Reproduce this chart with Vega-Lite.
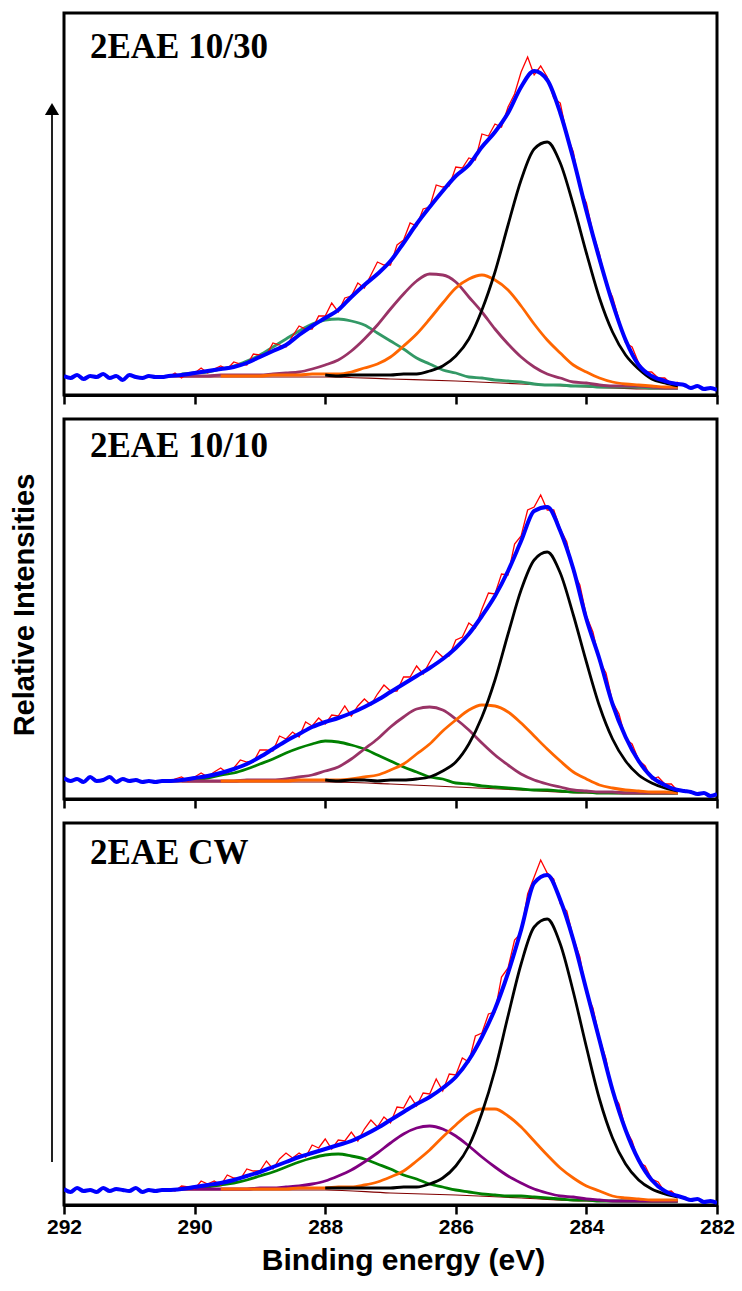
{
"$schema":"https://vega.github.io/schema/vega-lite/v6.json",
"padding":{"left":0,"top":11,"right":8,"bottom":4},
"background":"white",
"config":{"view":{"stroke":"black","strokeWidth":3},"title":{"anchor":"start","frame":"group","orient":"top","offset":-52,"dx":26,"font":"Liberation Serif","fontSize":35,"fontWeight":"bold","color":"black","baseline":"alphabetic"}},
"datasets":{
"p1":[
{"e":292,"f":19},{"e":291.9,"f":17},{"e":291.8,"f":20},{"e":291.7,"f":16},{"e":291.6,"f":19},{"e":291.5,"f":18},{"e":291.4,"f":21},{"e":291.3,"f":17},{"e":291.2,"f":19},{"e":291.1,"f":15},{"e":291,"f":20},{"e":290.9,"f":18},{"e":290.8,"f":17},{"e":290.7,"f":19},{"e":290.6,"f":18},{"e":290.5,"f":18},
{"e":290.4,"f":19,"r":18,"z":18},{"e":290.3,"r":22},
{"e":290.2,"f":20,"r":17,"u":19,"g":21},{"e":290.1,"r":22},
{"e":290,"f":22,"r":22,"u":19,"g":22},{"e":289.9,"r":27},
{"e":289.8,"f":24,"r":22,"u":19,"g":23},{"e":289.7,"r":26},
{"e":289.6,"f":26,"r":29,"o":19,"u":20,"g":26},{"e":289.5,"r":26},
{"e":289.4,"f":28,"r":33,"o":19,"u":20,"g":29},{"e":289.3,"r":31},
{"e":289.2,"f":32,"r":30,"o":19,"u":20,"g":34},{"e":289.1,"r":41},
{"e":289,"f":38,"r":40,"o":19,"u":20,"g":40,"z":18},{"e":288.9,"r":40},
{"e":288.8,"f":44,"r":52,"o":20,"u":21,"g":48},{"e":288.7,"r":50},
{"e":288.6,"f":50,"r":48,"o":20,"u":22,"g":56},{"e":288.5,"r":59},
{"e":288.4,"f":60,"r":69,"o":20,"u":23,"g":64},{"e":288.3,"r":66},
{"e":288.2,"f":69,"r":66,"o":21,"u":26,"g":71},{"e":288.1,"r":79},
{"e":288,"f":77,"r":79,"k":20,"o":21,"u":30,"g":75,"z":18},{"e":287.9,"r":92},
{"e":287.8,"f":85,"r":83,"k":19,"o":21,"u":35,"g":76},{"e":287.7,"r":97},
{"e":287.6,"f":98,"r":99,"k":20,"o":23,"u":44,"g":74},{"e":287.5,"r":112},
{"e":287.4,"f":110,"r":107,"k":20,"o":27,"u":56,"g":70},{"e":287.3,"r":120},
{"e":287.2,"f":121,"r":133,"k":20,"o":31,"u":70,"g":62},{"e":287.1,"r":130},
{"e":287,"f":134,"r":130,"k":20,"o":38,"u":86,"g":54,"z":16},{"e":286.9,"r":150},
{"e":286.8,"f":152,"r":155,"k":21,"o":49,"u":101,"g":46},{"e":286.7,"r":172},
{"e":286.6,"f":171,"r":169,"k":21,"o":61,"u":114,"g":37},{"e":286.5,"r":186},
{"e":286.4,"f":188,"r":188,"k":24,"o":76,"u":121,"g":31},{"e":286.3,"r":210},
{"e":286.2,"f":204,"r":208,"k":29,"o":92,"u":120,"g":25},{"e":286.1,"r":209},
{"e":286,"f":219,"r":228,"k":39,"o":107,"u":113,"g":22,"z":14},{"e":285.9,"r":227},
{"e":285.8,"f":230,"r":237,"k":56,"o":116,"u":98,"g":18},{"e":285.7,"r":235},
{"e":285.6,"f":248,"r":261,"k":85,"o":120,"u":83,"g":17},{"e":285.5,"r":259},
{"e":285.4,"f":263,"r":271,"k":123,"o":115,"u":66,"g":15},{"e":285.3,"r":268},
{"e":285.2,"f":282,"r":288,"k":170,"o":105,"u":51,"g":14},{"e":285.1,"r":301},
{"e":285,"f":308,"r":323,"k":215,"o":89,"u":38,"g":13,"z":11},{"e":284.9,"r":338},
{"e":284.8,"f":324,"r":320,"k":246,"o":71,"u":28,"g":11},{"e":284.7,"r":329},
{"e":284.6,"f":315,"r":318,"k":253,"o":55,"u":21,"g":10},{"e":284.5,"r":297},
{"e":284.4,"f":282,"r":292,"k":232,"o":42,"u":17,"g":10},{"e":284.3,"r":260},
{"e":284.2,"f":236,"r":243,"k":190,"o":30,"u":13,"g":9},{"e":284.1,"r":207},
{"e":284,"f":184,"r":192,"k":142,"o":23,"u":12,"g":9,"z":8},{"e":283.9,"r":162},
{"e":283.8,"f":136,"r":141,"k":97,"o":17,"u":10,"g":8},{"e":283.7,"r":112},
{"e":283.6,"f":92,"r":98,"k":63,"o":13,"u":9,"g":8},{"e":283.5,"r":75},
{"e":283.4,"f":55,"r":52,"k":40,"o":11,"u":9,"g":8},{"e":283.3,"r":48},
{"e":283.2,"f":30,"r":32,"k":26,"o":10,"u":9,"g":8},{"e":283.1,"r":23},
{"e":283,"f":19,"r":23,"k":16,"o":9,"u":8,"g":7,"z":6},{"e":282.9,"r":17},
{"e":282.8,"f":14,"r":17,"k":12,"o":8,"u":7,"g":7},{"e":282.7,"f":12,"r":11},
{"e":282.6,"f":11,"r":13,"k":9,"o":8,"u":7,"g":7,"z":6},
{"e":282.5,"f":10},{"e":282.4,"f":7},{"e":282.3,"f":9},{"e":282.2,"f":6},{"e":282.1,"f":7},{"e":282,"f":5}
],
"p2":[
{"e":292,"f":21},{"e":291.9,"f":18},{"e":291.8,"f":20},{"e":291.7,"f":17},{"e":291.6,"f":22},{"e":291.5,"f":18},{"e":291.4,"f":19},{"e":291.3,"f":22},{"e":291.2,"f":17},{"e":291.1,"f":20},{"e":291,"f":18},{"e":290.9,"f":19},{"e":290.8,"f":17},{"e":290.7,"f":18},{"e":290.6,"f":17},{"e":290.5,"f":18},
{"e":290.4,"f":18,"r":17,"z":17},{"e":290.3,"r":20},
{"e":290.2,"f":19,"r":22,"u":18,"g":19},{"e":290.1,"r":18},
{"e":290,"f":21,"r":22,"u":18,"g":20},{"e":289.9,"r":26},
{"e":289.8,"f":23,"r":22,"u":18,"g":21},{"e":289.7,"r":27},
{"e":289.6,"f":26,"r":31,"o":18,"u":18,"g":24},{"e":289.5,"r":26},
{"e":289.4,"f":30,"r":31,"o":18,"u":18,"g":26},{"e":289.3,"r":39},
{"e":289.2,"f":35,"r":37,"o":18,"u":19,"g":30},{"e":289.1,"r":37},
{"e":289,"f":42,"r":49,"o":18,"u":19,"g":35,"z":17},{"e":288.9,"r":49},
{"e":288.8,"f":50,"r":48,"o":18,"u":19,"g":40},{"e":288.7,"r":63},
{"e":288.6,"f":58,"r":60,"o":18,"u":20,"g":46},{"e":288.5,"r":67},
{"e":288.4,"f":65,"r":62,"o":19,"u":22,"g":51},{"e":288.3,"r":77},
{"e":288.2,"f":72,"r":73,"o":19,"u":24,"g":55},{"e":288.1,"r":81},
{"e":288,"f":77,"r":75,"k":19,"o":19,"u":28,"g":58,"z":17},{"e":287.9,"r":84},
{"e":287.8,"f":81,"r":83,"k":18,"o":19,"u":32,"g":57},{"e":287.7,"r":93},
{"e":287.6,"f":86,"r":83,"k":19,"o":20,"u":40,"g":54},{"e":287.5,"r":93},
{"e":287.4,"f":92,"r":100,"k":19,"o":22,"u":50,"g":50},{"e":287.3,"r":94},
{"e":287.2,"f":99,"r":105,"k":18,"o":24,"u":60,"g":44},{"e":287.1,"r":114},
{"e":287,"f":107,"r":108,"k":19,"o":29,"u":72,"g":38,"z":15},{"e":286.9,"r":108},
{"e":286.8,"f":115,"r":122,"k":19,"o":35,"u":82,"g":32},{"e":286.7,"r":122},
{"e":286.6,"f":123,"r":133,"k":20,"o":45,"u":90,"g":27},{"e":286.5,"r":125},
{"e":286.4,"f":131,"r":137,"k":22,"o":55,"u":92,"g":22},{"e":286.3,"r":148},
{"e":286.2,"f":140,"r":142,"k":28,"o":68,"u":89,"g":20},{"e":286.1,"r":143},
{"e":286,"f":151,"r":159,"k":37,"o":79,"u":80,"g":16,"z":12},{"e":285.9,"r":162},
{"e":285.8,"f":165,"r":176,"k":55,"o":89,"u":69,"g":15},{"e":285.7,"r":171},
{"e":285.6,"f":183,"r":190,"k":82,"o":94,"u":56,"g":13},{"e":285.5,"r":206},
{"e":285.4,"f":203,"r":205,"k":119,"o":93,"u":44,"g":12},{"e":285.3,"r":225},
{"e":285.2,"f":228,"r":224,"k":165,"o":87,"u":34,"g":11},{"e":285.1,"r":255},
{"e":285,"f":258,"r":263,"k":209,"o":76,"u":25,"g":10,"z":9},{"e":284.9,"r":289},
{"e":284.8,"f":288,"r":292,"k":239,"o":63,"u":19,"g":9},{"e":284.7,"r":304},
{"e":284.6,"f":292,"r":289,"k":247,"o":50,"u":15,"g":9},{"e":284.5,"r":289},
{"e":284.4,"f":268,"r":270,"k":226,"o":38,"u":12,"g":8},{"e":284.3,"r":257},
{"e":284.2,"f":230,"r":227,"k":184,"o":27,"u":9,"g":7},{"e":284.1,"r":214},
{"e":284,"f":180,"r":183,"k":137,"o":20,"u":8,"g":7,"z":6},{"e":283.9,"r":167},
{"e":283.8,"f":140,"r":138,"k":93,"o":14,"u":7,"g":6},{"e":283.7,"r":126},
{"e":283.6,"f":95,"r":97,"k":60,"o":11,"u":7,"g":6},{"e":283.5,"r":85},
{"e":283.4,"f":62,"r":60,"k":38,"o":9,"u":6,"g":6},{"e":283.3,"r":55},
{"e":283.2,"f":38,"r":39,"k":24,"o":8,"u":6,"g":6},{"e":283.1,"r":33},
{"e":283,"f":22,"r":20,"k":16,"o":7,"u":6,"g":6,"z":5},{"e":282.9,"r":22},
{"e":282.8,"f":14,"r":15,"k":11,"o":7,"u":6,"g":6},{"e":282.7,"f":11,"r":15},
{"e":282.6,"f":9,"r":8,"k":8,"o":6,"u":6,"g":6,"z":5},
{"e":282.5,"f":8},{"e":282.4,"f":7},{"e":282.3,"f":5},{"e":282.2,"f":6},{"e":282.1,"f":3},{"e":282,"f":5}
],
"p3":[
{"e":292,"f":16},{"e":291.9,"f":13},{"e":291.8,"f":17},{"e":291.7,"f":14},{"e":291.6,"f":15},{"e":291.5,"f":13},{"e":291.4,"f":17},{"e":291.3,"f":14},{"e":291.2,"f":16},{"e":291.1,"f":15},{"e":291,"f":14},{"e":290.9,"f":17},{"e":290.8,"f":13},{"e":290.7,"f":15},{"e":290.6,"f":14},{"e":290.5,"f":15},
{"e":290.4,"f":15,"r":16,"z":15},{"e":290.3,"r":14},
{"e":290.2,"f":16,"r":19,"u":16,"g":17},{"e":290.1,"r":18},
{"e":290,"f":18,"r":16,"u":16,"g":17},{"e":289.9,"r":24},
{"e":289.8,"f":20,"r":21,"u":16,"g":18},{"e":289.7,"r":24},
{"e":289.6,"f":22,"r":20,"o":16,"u":16,"g":20},{"e":289.5,"r":30},
{"e":289.4,"f":25,"r":27,"o":16,"u":16,"g":22},{"e":289.3,"r":26},
{"e":289.2,"f":29,"r":36,"o":16,"u":16,"g":25},{"e":289.1,"r":34},
{"e":289,"f":33,"r":34,"o":16,"u":17,"g":29,"z":15},{"e":288.9,"r":44},
{"e":288.8,"f":38,"r":36,"o":16,"u":17,"g":33},{"e":288.7,"r":46},
{"e":288.6,"f":43,"r":52,"o":16,"u":18,"g":38},{"e":288.5,"r":47},
{"e":288.4,"f":48,"r":52,"o":17,"u":19,"g":43},{"e":288.3,"r":48},
{"e":288.2,"f":52,"r":60,"o":17,"u":21,"g":47},{"e":288.1,"r":57},
{"e":288,"f":56,"r":66,"k":17,"o":17,"u":24,"g":50,"z":15},{"e":287.9,"r":56},
{"e":287.8,"f":60,"r":65,"k":17,"o":18,"u":29,"g":51},{"e":287.7,"r":64},
{"e":287.6,"f":64,"r":73,"k":17,"o":18,"u":35,"g":49},{"e":287.5,"r":64},
{"e":287.4,"f":70,"r":76,"k":17,"o":20,"u":43,"g":46},{"e":287.3,"r":85},
{"e":287.2,"f":77,"r":78,"k":17,"o":23,"u":52,"g":41},{"e":287.1,"r":88},
{"e":287,"f":85,"r":82,"k":17,"o":28,"u":62,"g":36,"z":12},{"e":286.9,"r":98},
{"e":286.8,"f":93,"r":97,"k":18,"o":34,"u":71,"g":30},{"e":286.7,"r":109},
{"e":286.6,"f":101,"r":99,"k":18,"o":44,"u":77,"g":26},{"e":286.5,"r":112},
{"e":286.4,"f":108,"r":111,"k":21,"o":55,"u":79,"g":21},{"e":286.3,"r":126},
{"e":286.2,"f":117,"r":114,"k":27,"o":68,"u":76,"g":18},{"e":286.1,"r":131},
{"e":286,"f":128,"r":130,"k":39,"o":80,"u":69,"g":15,"z":10},{"e":285.9,"r":147},
{"e":285.8,"f":145,"r":143,"k":59,"o":91,"u":59,"g":13},{"e":285.7,"r":169},
{"e":285.6,"f":168,"r":172,"k":92,"o":96,"u":48,"g":11},{"e":285.5,"r":191},
{"e":285.4,"f":196,"r":193,"k":135,"o":96,"u":38,"g":10},{"e":285.3,"r":228},
{"e":285.2,"f":232,"r":237,"k":189,"o":89,"u":29,"g":9},{"e":285.1,"r":265},
{"e":285,"f":275,"r":272,"k":241,"o":78,"u":22,"g":9,"z":7},{"e":284.9,"r":311},
{"e":284.8,"f":322,"r":328,"k":278,"o":64,"u":16,"g":8},{"e":284.7,"r":345},
{"e":284.6,"f":330,"r":332,"k":286,"o":50,"u":12,"g":7},{"e":284.5,"r":326},
{"e":284.4,"f":305,"r":301,"k":261,"o":37,"u":9,"g":6},{"e":284.3,"r":294},
{"e":284.2,"f":265,"r":267,"k":213,"o":27,"u":8,"g":5},{"e":284.1,"r":248},
{"e":284,"f":215,"r":212,"k":158,"o":19,"u":6,"g":5,"z":4},{"e":283.9,"r":197},
{"e":283.8,"f":165,"r":167,"k":106,"o":14,"u":5,"g":4},{"e":283.7,"r":146},
{"e":283.6,"f":115,"r":112,"k":67,"o":9,"u":4,"g":4},{"e":283.5,"r":101},
{"e":283.4,"f":75,"r":76,"k":41,"o":7,"u":4,"g":4},{"e":283.3,"r":64},
{"e":283.2,"f":45,"r":43,"k":25,"o":6,"u":4,"g":4},{"e":283.1,"r":39},
{"e":283,"f":25,"r":26,"k":16,"o":5,"u":4,"g":4,"z":3},{"e":282.9,"r":23},
{"e":282.8,"f":14,"r":13,"k":11,"o":5,"u":4,"g":4},{"e":282.7,"f":11,"r":14},
{"e":282.6,"f":9,"r":8,"k":8,"o":5,"u":4,"g":4,"z":3},
{"e":282.5,"f":7},{"e":282.4,"f":5},{"e":282.3,"f":6},{"e":282.2,"f":3},{"e":282.1,"f":4},{"e":282,"f":2}
]
},
"hconcat":[
{
"width":58,"height":1192,
"view":{"stroke":null},
"layer":[
{"data":{"values":[{"t":"Relative Intensities"}]},
 "mark":{"type":"text","angle":270,"font":"Liberation Sans","fontSize":29,"fontWeight":"bold","align":"center","baseline":"middle","color":"black"},
 "encoding":{"text":{"field":"t"},
  "x":{"datum":25,"type":"quantitative","scale":{"domain":[0,58],"nice":false,"zero":false},"axis":null},
  "y":{"datum":592,"type":"quantitative","scale":{"domain":[0,1192],"reverse":true,"nice":false,"zero":false},"axis":null}}},
{"data":{"values":[{"t":"arrow"}]},
 "mark":{"type":"rule","strokeWidth":2,"color":"#222"},
 "encoding":{"x":{"datum":52,"type":"quantitative"},"y":{"datum":100,"type":"quantitative"},"y2":{"datum":1149}}},
{"data":{"values":[{"t":"arrow"}]},
 "mark":{"type":"point","shape":"triangle-up","filled":true,"color":"black","opacity":1,"size":200},
 "encoding":{"x":{"datum":52,"type":"quantitative"},"y":{"datum":96,"type":"quantitative"}}}
]
},
{
"vconcat":[
{
"title":{"text":"2EAE 10/30"},
"width":653,"height":382,
"encoding":{
 "x":{"field":"e","type":"quantitative","scale":{"domain":[282,292],"reverse":true,"nice":false,"zero":false},
  "axis":{"values":[292,290,288,286,284,282],"labels":false,"title":null,"grid":false,"ticks":true,"tickSize":9,"tickWidth":2.5,"tickColor":"black","domainColor":"black","domainWidth":3}},
 "y":{"field":"v","type":"quantitative","scale":{"domain":[0,382],"nice":false,"zero":false},"axis":null}},
"layer":[
{"data":{"name":"p1"},"transform":[{"fold":["z"],"as":["s","v"]},{"filter":"isValid(datum.v)"}],
 "mark":{"type":"line","interpolate":"monotone","color":"#800000","strokeWidth":1.2,"clip":true}},
{"data":{"name":"p1"},"transform":[{"fold":["g","u","o","k"],"as":["s","v"]},{"filter":"isValid(datum.v)"}],
 "mark":{"type":"line","interpolate":"monotone","strokeWidth":2.8,"clip":true},
 "encoding":{"color":{"field":"s","type":"nominal","scale":{"domain":["g","u","o","k"],"range":["#339966","#993366","#FF6600","#000000"]},"legend":null}}},
{"data":{"name":"p1"},"transform":[{"fold":["r"],"as":["s","v"]},{"filter":"isValid(datum.v)"}],
 "mark":{"type":"line","color":"#FF0000","strokeWidth":1.3,"clip":true}},
{"data":{"name":"p1"},"transform":[{"fold":["f"],"as":["s","v"]},{"filter":"isValid(datum.v)"}],
 "mark":{"type":"line","color":"#0000FF","strokeWidth":4,"interpolate":"monotone","clip":true}}
]
},
{
"title":{"text":"2EAE 10/10","offset":-45},
"width":653,"height":380,
"encoding":{
 "x":{"field":"e","type":"quantitative","scale":{"domain":[282,292],"reverse":true,"nice":false,"zero":false},
  "axis":{"values":[292,290,288,286,284,282],"labels":false,"title":null,"grid":false,"ticks":true,"tickSize":9,"tickWidth":2.5,"tickColor":"black","domainColor":"black","domainWidth":3}},
 "y":{"field":"v","type":"quantitative","scale":{"domain":[0,380],"nice":false,"zero":false},"axis":null}},
"layer":[
{"data":{"name":"p2"},"transform":[{"fold":["z"],"as":["s","v"]},{"filter":"isValid(datum.v)"}],
 "mark":{"type":"line","interpolate":"monotone","color":"#800000","strokeWidth":1.2,"clip":true}},
{"data":{"name":"p2"},"transform":[{"fold":["g","u","o","k"],"as":["s","v"]},{"filter":"isValid(datum.v)"}],
 "mark":{"type":"line","interpolate":"monotone","strokeWidth":2.8,"clip":true},
 "encoding":{"color":{"field":"s","type":"nominal","scale":{"domain":["g","u","o","k"],"range":["#008000","#993366","#FF6600","#000000"]},"legend":null}}},
{"data":{"name":"p2"},"transform":[{"fold":["r"],"as":["s","v"]},{"filter":"isValid(datum.v)"}],
 "mark":{"type":"line","color":"#FF0000","strokeWidth":1.3,"clip":true}},
{"data":{"name":"p2"},"transform":[{"fold":["f"],"as":["s","v"]},{"filter":"isValid(datum.v)"}],
 "mark":{"type":"line","color":"#0000FF","strokeWidth":4,"interpolate":"monotone","clip":true}}
]
},
{
"title":{"text":"2EAE CW","offset":-48},
"width":653,"height":382,
"encoding":{
 "x":{"field":"e","type":"quantitative","scale":{"domain":[282,292],"reverse":true,"nice":false,"zero":false},
  "axis":{"values":[292,290,288,286,284,282],"labels":true,"labelFlush":false,"labelOverlap":false,"labelFont":"Liberation Sans","labelFontSize":21,"labelFontWeight":"bold","labelColor":"black","labelPadding":2,
   "title":"Binding energy (eV)","titleFont":"Liberation Sans","titleFontSize":30,"titleFontWeight":"bold","titleColor":"black","titleX":339,"titleY":64,"titleBaseline":"alphabetic","titleAlign":"center",
   "grid":false,"ticks":true,"tickSize":9,"tickWidth":2.5,"tickColor":"black","domainColor":"black","domainWidth":3}},
 "y":{"field":"v","type":"quantitative","scale":{"domain":[0,382],"nice":false,"zero":false},"axis":null}},
"layer":[
{"data":{"name":"p3"},"transform":[{"fold":["z"],"as":["s","v"]},{"filter":"isValid(datum.v)"}],
 "mark":{"type":"line","interpolate":"monotone","color":"#800000","strokeWidth":1.2,"clip":true}},
{"data":{"name":"p3"},"transform":[{"fold":["g","u","o","k"],"as":["s","v"]},{"filter":"isValid(datum.v)"}],
 "mark":{"type":"line","interpolate":"monotone","strokeWidth":2.8,"clip":true},
 "encoding":{"color":{"field":"s","type":"nominal","scale":{"domain":["g","u","o","k"],"range":["#008000","#800080","#FF6600","#000000"]},"legend":null}}},
{"data":{"name":"p3"},"transform":[{"fold":["r"],"as":["s","v"]},{"filter":"isValid(datum.v)"}],
 "mark":{"type":"line","color":"#FF0000","strokeWidth":1.3,"clip":true}},
{"data":{"name":"p3"},"transform":[{"fold":["f"],"as":["s","v"]},{"filter":"isValid(datum.v)"}],
 "mark":{"type":"line","color":"#0000FF","strokeWidth":4,"interpolate":"monotone","clip":true}}
]
}
],
"spacing":24,
"bounds":"flush",
"resolve":{"scale":{"color":"independent","x":"independent","y":"independent"}}
}
],
"spacing":6,
"bounds":"flush"
}
